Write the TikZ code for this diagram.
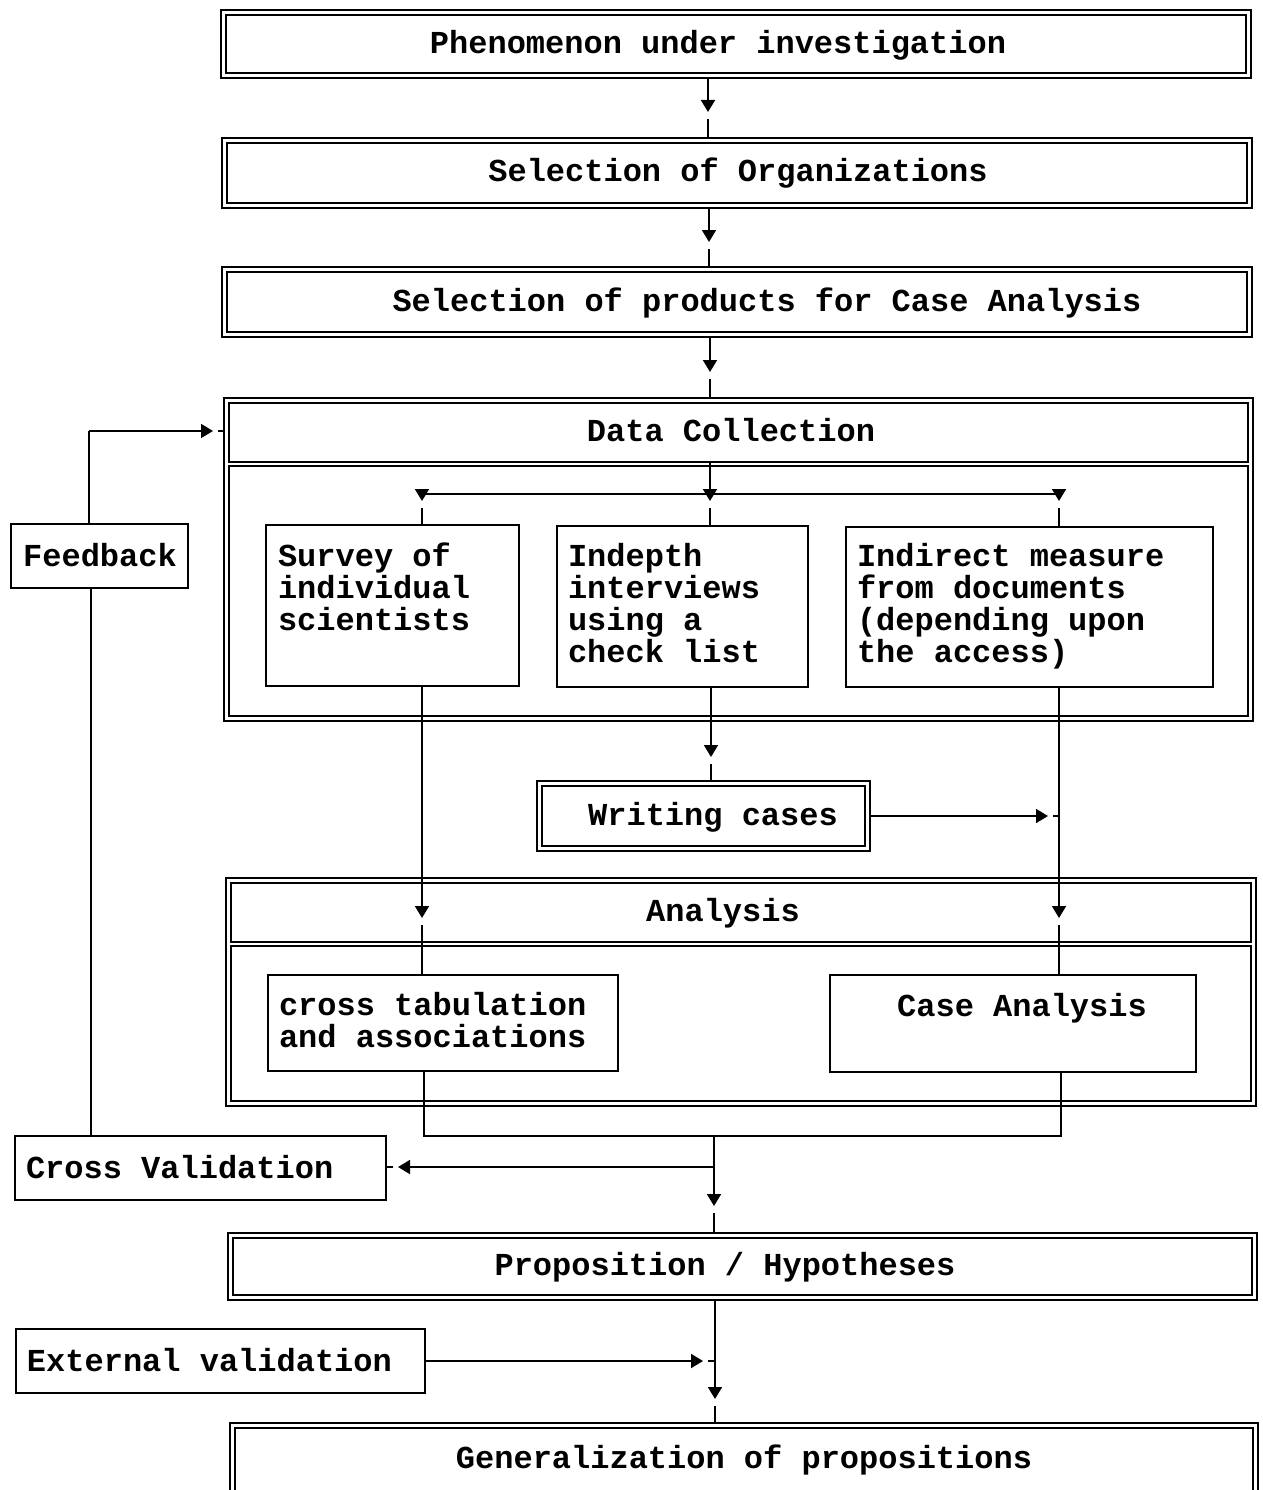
\documentclass[tikz,border=0pt]{standalone}
\usepackage{fontspec}
\newfontfamily\flowfont{Liberation Mono}
\usetikzlibrary{arrows.meta}
\begin{document}
\begin{tikzpicture}[x=1pt,y=-1pt,
  every node/.style={inner sep=0pt, outer sep=0pt},
  txt/.style={font=\flowfont\bfseries\fontsize{32}{32}\selectfont, anchor=base},
  % multi-line text: positioned by the baseline of its last line
  mtxt/.style={txt, align=left, anchor=base west},
  sbox/.style={draw, line width=1.8pt, rectangle},
  thin/.style={draw, line width=1.4pt, rectangle},
  dbox/.style={draw, line width=2.2pt, rectangle,
    path picture={\draw[line width=1.3pt]
      ([xshift=5pt,yshift=-5pt]path picture bounding box.north west) rectangle
      ([xshift=-5pt,yshift=5pt]path picture bounding box.south east);}},
  ln/.style={line width=1.8pt},
  arr/.style={ln, -{Triangle[length=12pt,width=14pt]}},
]
\useasboundingbox (0,0) rectangle (1262,1490);

% ---- main column of double boxes
\node[dbox, minimum width=1030, minimum height=68] (phen) at (736,44) {};
\node[txt] (phenT) at (718,54) {Phenomenon under investigation};

\node[dbox, minimum width=1030, minimum height=70] (org) at (737,173) {};
\node[txt] (orgT) at (738,182) {Selection of Organizations};

\node[dbox, minimum width=1030, minimum height=70] (prod) at (737,302) {};
\node[txt] (prodT) at (767,311) {Selection of products for Case Analysis};

% ---- data collection frame
\node[sbox, line width=2.2pt, minimum width=1029, minimum height=323] (dc) at (738.5,559.5) {};
\node[thin, minimum width=1019, minimum height=59] (dch) at (738.5,432.5) {};
\node[thin, minimum width=1019, minimum height=250] (dcb) at (738.5,591) {};
\node[txt] (dcT) at (731,441) {Data Collection};

\node[sbox, minimum width=253, minimum height=161] (survey) at (392.5,605.5) {};
\node[mtxt] (surveyT) at (278,630) {Survey of\\individual\\scientists};

\node[sbox, minimum width=251, minimum height=161] (indepth) at (682.5,606.5) {};
\node[mtxt] (indepthT) at (568,662) {Indepth\\interviews\\using a\\check list};

\node[sbox, minimum width=367, minimum height=160] (indirect) at (1029.5,607) {};
\node[mtxt] (indirectT) at (857,662) {Indirect measure\\from documents\\(depending upon\\the access)};

\node[dbox, minimum width=333, minimum height=70] (writ) at (703.5,816) {};
\node[txt] (writT) at (713,825) {Writing cases};

% ---- analysis frame
\node[sbox, line width=2.2pt, minimum width=1030, minimum height=228] (an) at (741,992) {};
\node[thin, minimum width=1020, minimum height=59] (anh) at (741,912.5) {};
\node[thin, minimum width=1020, minimum height=155] (anb) at (741,1023.5) {};
\node[txt] (anT) at (723,921) {Analysis};

\node[sbox, minimum width=350, minimum height=96] (ctab) at (443,1023) {};
\node[mtxt] (ctabT) at (279,1047) {cross tabulation\\and associations};

\node[sbox, minimum width=366, minimum height=97] (case) at (1013,1023.5) {};
\node[txt] (caseT) at (1022,1016) {Case Analysis};

% ---- side boxes
\node[sbox, minimum width=177, minimum height=64] (fb) at (99.5,556) {};
\node[txt] (fbT) at (100,566) {Feedback};

\node[sbox, minimum width=371, minimum height=64] (cv) at (200.5,1168) {};
\node[txt, anchor=base west] (cvT) at (26,1178) {Cross Validation};

\node[sbox, minimum width=409, minimum height=64] (ev) at (220.5,1361) {};
\node[txt, anchor=base west] (evT) at (27,1371) {External validation};

% ---- lower column
\node[dbox, minimum width=1029, minimum height=67] (prop) at (742.5,1266.5) {};
\node[txt] (propT) at (725,1275) {Proposition / Hypotheses};

\node[dbox, minimum width=1028, minimum height=90] (gen) at (744,1468) {};
\node[txt] (genT) at (744,1468) {Generalization of propositions};

% ---- connectors between the top boxes
\coordinate (t1) at (708,112);
\draw[arr] (phen.south -| t1) -- (t1);
\draw[ln] ([yshift=-7pt]t1) -- (org.north -| t1);

\coordinate (t2) at (709,242);
\draw[arr] (org.south -| t2) -- (t2);
\draw[ln] ([yshift=-7pt]t2) -- (prod.north -| t2);

\coordinate (t3) at (710,372);
\draw[arr] (prod.south -| t3) -- (t3);
\draw[ln] ([yshift=-7pt]t3) -- (dc.north -| t3);

% ---- distribution to the three collection methods
\coordinate (hubL) at (422,494);
\coordinate (hubR) at (1059,494);
\coordinate (tA) at (422,501);
\coordinate (tB) at (710,501);
\coordinate (tC) at (1059,501);
\draw[ln] (hubL) -- (hubR);
\draw[arr] (dch.south -| tB) -- (tB);
\draw[arr] (hubL) -- (tA);
\draw[arr] (hubR) -- (tC);
\draw[ln] ([yshift=-7pt]tA) -- (survey.north -| tA);
\draw[ln] ([yshift=-7pt]tB) -- (indepth.north -| tB);
\draw[ln] ([yshift=-7pt]tC) -- (indirect.north -| tC);

% ---- interviews to writing cases
\coordinate (tW) at (711,757);
\draw[arr] (indepth.south -| tW) -- (tW);
\draw[ln] ([yshift=-7pt]tW) -- (writ.north -| tW);

% ---- into analysis
\coordinate (tS) at (422,918);
\draw[arr] (survey.south -| tS) -- (tS);
\draw[ln] ([yshift=-7pt]tS) -- (ctab.north -| tS);

\coordinate (tI) at (1059,918);
\draw[arr] (indirect.south -| tI) -- (tI);
\draw[ln] ([yshift=-7pt]tI) -- (case.north -| tI);

\coordinate (tWc) at (1048,816);
\coordinate (jW) at (1059,816);
\draw[arr] (writ.east |- tWc) -- (tWc);
\draw[ln] ([xshift=5pt]tWc) -- (jW);

% ---- merge of the two analyses
\coordinate (mL) at (424,1136);
\coordinate (mR) at (1061,1136);
\coordinate (mC) at (714,1136);
\draw[ln] (ctab.south -| mL) -- (mL) -- (mR) -- (case.south -| mR);

\coordinate (tP) at (714,1206);
\draw[arr] (mC) -- (tP);
\draw[ln] ([yshift=-7pt]tP) -- (prop.north -| tP);

\coordinate (jCV) at (714,1167);
\coordinate (tCV) at (398,1167);
\draw[arr] (jCV) -- (tCV);
\draw[ln] ([xshift=-5pt]tCV) -- (cv.east |- tCV);

% ---- feedback loop
\coordinate (fbL) at (91,1136);
\draw[ln] (cv.north -| fbL) -- (fb.south -| fbL);
\coordinate (fbC) at (89,431);
\coordinate (tFB) at (213,431);
\draw[ln] (fb.north -| fbC) -- (fbC);
\draw[arr] (fbC) -- (tFB);
\draw[ln] ([xshift=5pt]tFB) -- (dc.west |- tFB);

% ---- generalisation
\coordinate (tG) at (715,1399);
\draw[arr] (prop.south -| tG) -- (tG);
\draw[ln] ([yshift=-7pt]tG) -- (gen.north -| tG);

\coordinate (tEV) at (703,1361);
\coordinate (jEV) at (715,1361);
\draw[arr] (ev.east |- tEV) -- (tEV);
\draw[ln] ([xshift=5pt]tEV) -- (jEV);
\end{tikzpicture}
\end{document}
